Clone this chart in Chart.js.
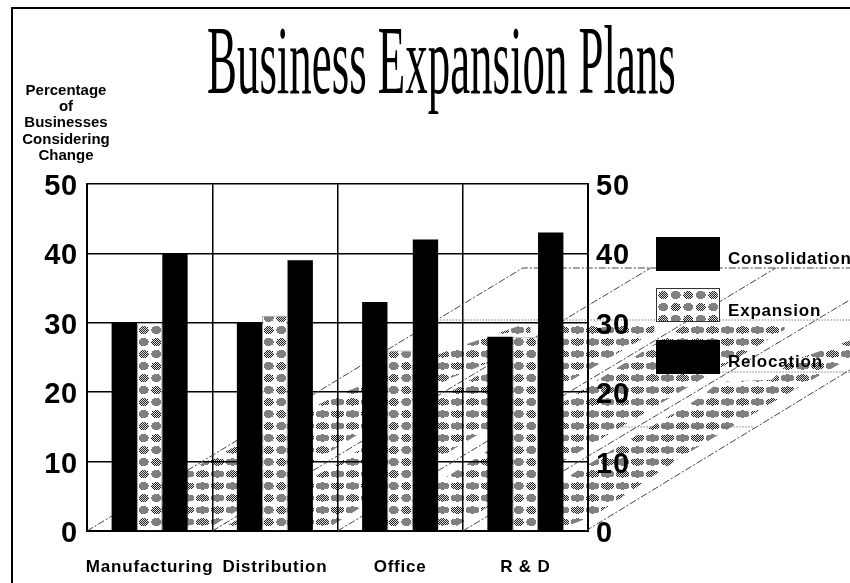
<!DOCTYPE html>
<html>
<head>
<meta charset="utf-8">
<title>Business Expansion Plans</title>
<script src="https://cdn.jsdelivr.net/npm/chart.js@4"></script>
<style>
  html, body { margin: 0; padding: 0; background: #fff; overflow: hidden; }
  #page { position: relative; width: 850px; height: 583px; overflow: hidden; font-family: "Liberation Sans", sans-serif; color: #000; }
  #frame { position: absolute; left: 11px; top: 7px; width: 900px; height: 700px; border-left: 2.5px solid #000; border-top: 2.5px solid #000; }
  #chart { position: absolute; left: 0; top: 0; }
  h1 { position: absolute; margin: 0; left: 207px; top: 5px; font: normal 98px/110px "Liberation Serif", serif; white-space: nowrap; transform: scaleX(0.458); transform-origin: 0 0; }
  #axis-caption { position: absolute; left: 16px; top: 82px; width: 100px; text-align: center; font: bold 15px/16.2px "Liberation Sans", sans-serif; }
  .swatch { position: absolute; left: 656px; width: 64px; height: 34px; background: #000; box-sizing: border-box; }
  .key { position: absolute; left: 728px; font: bold 17px/18px "Liberation Sans", sans-serif; letter-spacing: 0.8px; white-space: nowrap; }
</style>
</head>
<body>
<div id="page">
  <div id="frame"></div>
  <canvas id="chart" width="850" height="583"></canvas>
  <h1>Business Expansion Plans</h1>
  <div id="axis-caption">Percentage<br>of<br>Businesses<br>Considering<br>Change</div>
  <div class="swatch" style="top:237px"></div>
  <div class="key" style="top:250px">Consolidation</div>
  <div class="swatch" id="swatch-expansion" style="top:288px"></div>
  <div class="key" style="top:302px">Expansion</div>
  <div class="swatch" style="top:340px"></div>
  <div class="key" style="top:353px">Relocation</div>
</div>
<script>
const categories = ['Manufacturing', 'Distribution', 'Office', 'R & D'];
const consolidation = [30, 30, 33, 28];
const expansion = [30, 31, 26, 28];
const relocation = [40, 39, 42, 43];
const valueTicks = [0, 10, 20, 30, 40, 50];

// receding floor: x runs in category widths from the left axis, y in percent
const floorLine0 = [[0, 0], [3.48, 37.9], [6.1, 37.9]];
const floorLine1 = [[1, 0], [4.5, 37.9], [6.1, 37.9]];
const floorLine2 = [[2, 0], [5.5, 37.9], [6.1, 37.9]];
const floorLine3 = [[3, 0], [6.1, 33.4]];
const floorLine4 = [[3.98, 0], [6.1, 23.3]];
const floorRail30 = [[2.8, 30.4], [6.1, 30.4]];
const floorRail23 = [[5.05, 22.9], [6.1, 22.9]];
const floorRail15 = [[4.18, 15], [5.33, 15]];

const floorBand0 = [[0.42, 5.2], [2, 19.6], [2.9, 26.1], [3.54, 30.1], [3.54, 26.7], [2.9, 22], [2, 12.1], [1, 0.7], [0.42, 0.6]];
const floorBand1 = [[1.1, 0.6], [2.02, 9.9], [2.8, 18.9], [3.82, 30.1], [4.53, 30.1], [4.53, 28.7], [2.98, 12.4], [1.94, 0.6]];
const floorBand2 = [[2.26, 0.6], [2.9, 8.1], [3.9, 19.7], [4.81, 30.1], [5.57, 30.1], [5.57, 29], [4.02, 12.4], [2.94, 0.6]];
const floorBand3 = [[3.22, 0.6], [3.9, 8.5], [4.41, 14], [4.89, 19.2], [5.05, 21.5], [5.47, 21.8], [5.61, 24.4], [6.1, 27.5], [6.1, 25], [5.45, 18.3], [4.73, 10.5], [4.06, 2.3], [3.82, 0.6]];

const toPoints = (pairs) => pairs.map(([x, y]) => ({ x, y }));

// tile of round blobs, every other one dithered black on white, the rest flat grey
const makeTile = (cellW, cellH, rx, ry, paper) => {
    const tile = document.createElement('canvas');
    tile.width = cellW * 2;
    tile.height = cellH * 2;
    const tc = tile.getContext('2d');
    if (paper) {
        tc.fillStyle = paper;
        tc.fillRect(0, 0, tile.width, tile.height);
    }
    const blobs = [
        [cellW * 0.5, cellH * 0.5, true],
        [cellW * 1.5, cellH * 0.5, false],
        [cellW * 0.5, cellH * 1.5, false],
        [cellW * 1.5, cellH * 1.5, true]
    ];
    for (const [cx, cy, dithered] of blobs) {
        for (let py = 0; py < tile.height; py++) {
            for (let px = 0; px < tile.width; px++) {
                const dx = (px + 0.5 - cx) / rx;
                const dy = (py + 0.5 - cy) / ry;
                if (dx * dx + dy * dy > 1) continue;
                if (dithered) {
                    tc.fillStyle = (px + py) % 2 ? '#222' : '#ddd';
                } else {
                    tc.fillStyle = '#808080';
                }
                tc.fillRect(px, py, 1, 1);
            }
        }
    }
    return tile;
};

// 12.5 wide cells fit the category width, so each bar gets the same two columns
const barTile = makeTile(12.5, 12, 5, 4, '#fff');
const bandTile = makeTile(15, 12, 7, 3.6, null);
const ctx = document.getElementById('chart').getContext('2d');
const barPattern = ctx.createPattern(barTile, 'repeat');
const bandPattern = ctx.createPattern(bandTile, 'repeat');

const swatchExpansion = document.getElementById('swatch-expansion');
swatchExpansion.style.background = `url(${barTile.toDataURL()})`;
swatchExpansion.style.border = '1px solid #333';

const floorStroke = (pairs, dash) => ({
    type: 'line',
    indexAxis: 'x',
    data: toPoints(pairs),
    xAxisID: 'xFloor',
    yAxisID: 'y',
    borderColor: '#444',
    borderWidth: 1,
    borderDash: dash,
    pointRadius: 0,
    tension: 0,
    fill: false,
    clip: false,
    order: 5
});

const floorBand = (pairs) => ({
    type: 'line',
    indexAxis: 'x',
    data: toPoints(pairs),
    xAxisID: 'xFloor',
    yAxisID: 'y',
    showLine: false,
    pointRadius: 0,
    clip: false,
    isBand: true,
    order: 6
});

// the bands run past the plot area, so they are filled here from the points the scales placed
const bandFillPlugin = {
    id: 'bandFill',
    beforeDraw(chart) {
        const c = chart.ctx;
        c.letterSpacing = '0.8px';
        chart.data.datasets.forEach((ds, i) => {
            if (!ds.isBand) return;
            const pts = chart.getDatasetMeta(i).data;
            c.save();
            c.beginPath();
            pts.forEach((p, j) => j ? c.lineTo(p.x, p.y) : c.moveTo(p.x, p.y));
            c.closePath();
            c.fillStyle = bandPattern;
            c.fill();
            c.restore();
        });
    }
};

const diagDash = [7, 2, 2, 2];
const railDash = [1, 2];
const barShape = { indexAxis: 'x', categoryPercentage: 0.607, barPercentage: 1, xAxisID: 'x', yAxisID: 'y' };

new Chart(ctx, {
    data: {
        labels: categories,
        datasets: [
            { type: 'bar', label: 'Consolidation', data: consolidation, backgroundColor: '#000', order: 1, ...barShape },
            { type: 'bar', label: 'Expansion', data: expansion, backgroundColor: barPattern, borderColor: '#999', borderWidth: 1, order: 2, ...barShape },
            { type: 'bar', label: 'Relocation', data: relocation, backgroundColor: '#000', order: 3, ...barShape },
            floorStroke(floorLine0, diagDash),
            floorStroke(floorLine1, diagDash),
            floorStroke(floorLine2, diagDash),
            floorStroke(floorLine3, diagDash),
            floorStroke(floorLine4, diagDash),
            floorStroke(floorRail30, railDash),
            floorStroke(floorRail23, railDash),
            floorStroke(floorRail15, railDash),
            floorBand(floorBand0),
            floorBand(floorBand1),
            floorBand(floorBand2),
            floorBand(floorBand3)
        ]
    },
    options: {
        responsive: false,
        animation: false,
        events: [],
        // every dataset sets its own index axis; at chart level 'y' keeps the floor's
        // extra x axis from being counted when the bars work out their slot width
        indexAxis: 'y',
        layout: { padding: { top: 184, left: 0, right: 0, bottom: 0 } },
        plugins: {
            legend: { display: false },
            tooltip: { enabled: false }
        },
        scales: {
            x: {
                axis: 'x',
                type: 'category',
                position: 'bottom',
                offset: true,
                grid: { color: '#000', lineWidth: 1.5, drawTicks: false, offset: true },
                border: { color: '#000', width: 2 },
                ticks: {
                    color: '#000',
                    padding: 26,
                    autoSkip: false,
                    maxRotation: 0,
                    font: { family: '"Liberation Sans"', weight: 'bold', size: 17 }
                },
                afterFit(scale) { scale.height = 52; }
            },
            xFloor: { axis: 'x', type: 'linear', position: 'bottom', display: false, offset: false, min: 0, max: 4 },
            y: {
                axis: 'y',
                type: 'linear',
                position: 'left',
                min: 0,
                max: 50,
                afterBuildTicks(scale) { scale.ticks = valueTicks.map((value) => ({ value })); },
                grid: { color: '#000', lineWidth: 1.5, drawTicks: false },
                border: { color: '#000', width: 2 },
                ticks: {
                    color: '#000',
                    padding: 9,
                    labelOffset: 3,
                    font: { family: '"Liberation Sans"', weight: 'bold', size: 29 }
                },
                afterFit(scale) { scale.width = 87; }
            },
            yRight: {
                axis: 'y',
                type: 'linear',
                position: 'right',
                min: 0,
                max: 50,
                afterBuildTicks(scale) { scale.ticks = valueTicks.map((value) => ({ value })); },
                grid: { drawOnChartArea: false, drawTicks: false },
                border: { color: '#000', width: 2 },
                ticks: {
                    color: '#000',
                    padding: 8,
                    labelOffset: 3,
                    z: 1,
                    font: { family: '"Liberation Sans"', weight: 'bold', size: 29 }
                },
                afterFit(scale) { scale.width = 262; }
            }
        }
    },
    plugins: [bandFillPlugin]
});
</script>
</body>
</html>
